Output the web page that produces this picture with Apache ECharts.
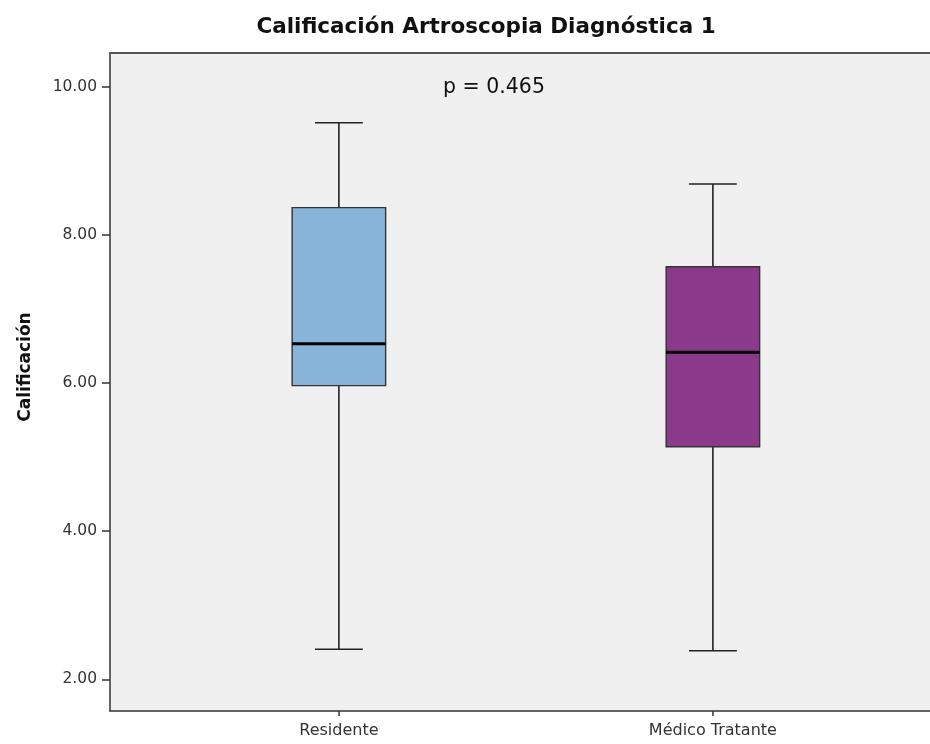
<!DOCTYPE html>
<html>
<head>
<meta charset="utf-8">
<script src="https://cdn.jsdelivr.net/npm/echarts@6/dist/echarts.min.js"></script>
<style>
  html, body { margin: 0; padding: 0; background: #ffffff; }
  #chart { width: 930px; height: 744px; }
</style>
</head>
<body>
<div id="chart"></div>
<script>
// Groups and five-number summaries: [min, Q1, median, Q3, max]
const categories = ['Residente', 'Médico Tratante'];
const residente = [2.405, 5.964, 6.531, 8.367, 9.514];
const medico = [2.386, 5.14, 6.415, 7.57, 8.687];
const boxColors = ['#89b4d9', '#8b3a8b'];
const yTicks = [2, 4, 6, 8, 10];
const pValueText = 'p = 0.465';

const FONT = 'DejaVu Sans';
const seriesData = [residente, medico].map((s, i) => [i].concat(s));

const chart = echarts.init(document.getElementById('chart'));

// Whiskers with short caps, a filled box from Q1 to Q3 and a heavy median bar
function renderBox(params, api) {
  const i = api.value(0);
  const lo = api.coord([i, api.value(1)]);
  const q1 = api.coord([i, api.value(2)]);
  const med = api.coord([i, api.value(3)]);
  const q3 = api.coord([i, api.value(4)]);
  const hi = api.coord([i, api.value(5)]);
  const unit = api.size([1, 0])[0];
  const halfBox = unit * 0.125;
  const halfCap = unit * 0.064;
  const cx = lo[0];
  const lineStyle = { stroke: '#222', lineWidth: 1.6 };
  return {
    type: 'group',
    children: [
      { type: 'line', shape: { x1: cx, y1: hi[1], x2: cx, y2: q3[1] }, style: lineStyle },
      { type: 'line', shape: { x1: cx, y1: q1[1], x2: cx, y2: lo[1] }, style: lineStyle },
      { type: 'line', shape: { x1: cx - halfCap, y1: hi[1], x2: cx + halfCap, y2: hi[1] }, style: lineStyle },
      { type: 'line', shape: { x1: cx - halfCap, y1: lo[1], x2: cx + halfCap, y2: lo[1] }, style: lineStyle },
      {
        type: 'rect',
        shape: { x: cx - halfBox, y: q3[1], width: halfBox * 2, height: q1[1] - q3[1] },
        style: { fill: boxColors[i], stroke: '#333', lineWidth: 1.4 }
      },
      {
        type: 'line',
        shape: { x1: cx - halfBox, y1: med[1], x2: cx + halfBox, y2: med[1] },
        style: { stroke: '#000', lineWidth: 3 }
      }
    ]
  };
}

const axisLineStyle = { color: '#333', width: 1.5 };

chart.setOption({
  animation: false,
  backgroundColor: '#ffffff',
  title: {
    text: 'Calificación Artroscopia Diagnóstica 1',
    left: 481,
    textAlign: 'center',
    top: 11,
    textStyle: { fontFamily: FONT, fontWeight: 'bold', fontSize: 21.5, color: '#111' }
  },
  graphic: [
    {
      type: 'text',
      x: 494,
      y: 88,
      style: { text: pValueText, fontFamily: FONT, fontSize: 20.5, fill: '#111', align: 'center', verticalAlign: 'middle' }
    }
  ],
  // The plot frame runs on past the right edge of the page
  grid: {
    left: 110,
    right: 0,
    top: 53,
    bottom: 33,
    show: true,
    backgroundColor: '#f0f0f0',
    borderWidth: 0
  },
  xAxis: [
    {
      type: 'value',
      min: -0.612,
      max: 1.5805,
      splitLine: { show: false },
      axisLine: { show: true, onZero: false, lineStyle: axisLineStyle },
      axisTick: { show: true, length: 5, customValues: [0, 1], lineStyle: axisLineStyle },
      axisLabel: {
        customValues: [0, 1],
        formatter: v => categories[Math.round(v)],
        margin: 12,
        fontFamily: FONT,
        fontSize: 16,
        color: '#333'
      }
    },
    {
      type: 'value',
      position: 'top',
      min: -0.612,
      max: 1.5805,
      splitLine: { show: false },
      axisLine: { show: true, onZero: false, lineStyle: { color: '#555', width: 2 } },
      axisTick: { show: false },
      axisLabel: { show: false }
    }
  ],
  yAxis: {
    type: 'value',
    min: 1.572,
    max: 10.455,
    name: 'Calificación',
    nameLocation: 'middle',
    nameGap: 76,
    nameRotate: 90,
    nameTextStyle: { fontFamily: FONT, fontWeight: 'bold', fontSize: 17, color: '#111', padding: [0, 0, 0, 30] },
    splitLine: { show: false },
    axisLine: { show: true, onZero: false, lineStyle: axisLineStyle },
    axisTick: { show: true, length: 8, customValues: yTicks, lineStyle: axisLineStyle },
    axisLabel: {
      customValues: yTicks,
      formatter: v => v.toFixed(2),
      margin: 13,
      fontFamily: FONT,
      fontSize: 15.5,
      color: '#333'
    }
  },
  series: [
    {
      type: 'custom',
      renderItem: renderBox,
      encode: { x: 0, y: [1, 2, 3, 4, 5] },
      data: seriesData,
      clip: false
    }
  ]
});
</script>
</body>
</html>
